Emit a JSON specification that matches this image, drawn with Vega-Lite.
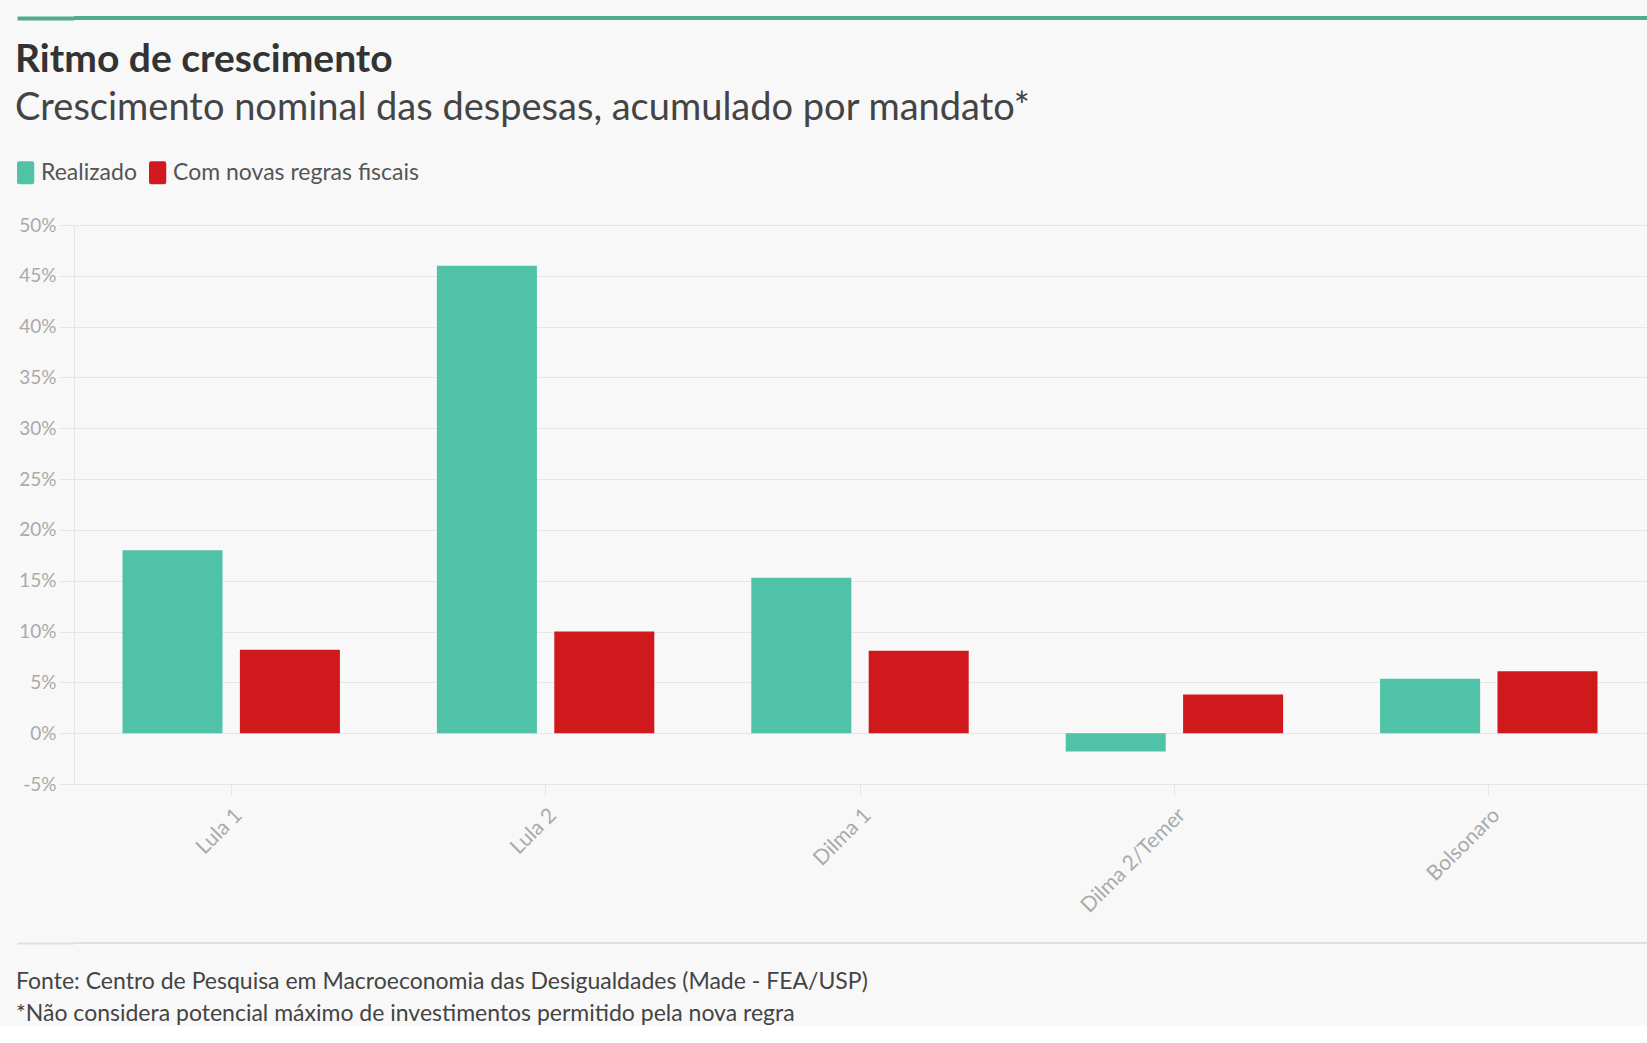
{
  "$schema": "https://vega.github.io/schema/vega-lite/v6.json",
  "background": "#f8f8f8",
  "padding": {"left": 15, "top": 16, "right": 0, "bottom": 0},
  "config": {
    "font": "Lato",
    "view": {"stroke": null}
  },
  "data": {
    "values": [
      {"mandato": "Lula 1", "serie": "Realizado", "valor": 18.0},
      {"mandato": "Lula 1", "serie": "Com novas regras fiscais", "valor": 8.2},
      {"mandato": "Lula 2", "serie": "Realizado", "valor": 46.0},
      {"mandato": "Lula 2", "serie": "Com novas regras fiscais", "valor": 10.0},
      {"mandato": "Dilma 1", "serie": "Realizado", "valor": 15.3},
      {"mandato": "Dilma 1", "serie": "Com novas regras fiscais", "valor": 8.1},
      {"mandato": "Dilma 2/Temer", "serie": "Realizado", "valor": -1.8},
      {"mandato": "Dilma 2/Temer", "serie": "Com novas regras fiscais", "valor": 3.8},
      {"mandato": "Bolsonaro", "serie": "Realizado", "valor": 5.35},
      {"mandato": "Bolsonaro", "serie": "Com novas regras fiscais", "valor": 6.1}
    ]
  },
  "spacing": 25,
  "resolve": {"legend": {"color": "independent"}, "scale": {"y": "independent", "color": "independent"}},
  "vconcat": [
    {
      "spacing": 33,
      "resolve": {"legend": {"color": "independent"}, "scale": {"y": "independent", "color": "independent"}},
      "vconcat": [
        {
          "width": 1575,
          "height": 4,
          "view": {"fill": "#52aa91", "stroke": null},
          "mark": {"type": "rule", "opacity": 0},
          "encoding": {
            "y": {
              "datum": 0.5,
              "type": "quantitative",
              "scale": {"domain": [0, 1]},
              "axis": {
                "title": null,
                "values": [0.5],
                "labels": false,
                "domain": false,
                "grid": false,
                "ticks": true,
                "tickSize": 57,
                "tickWidth": 4,
                "tickColor": "#52aa91"
              }
            }
          },
          "title": {
            "text": "Ritmo de crescimento",
            "subtitle": "Crescimento nominal das despesas, acumulado por mandato*",
            "orient": "bottom",
            "anchor": "start",
            "frame": "bounds",
            "offset": 21,
            "font": "Lato",
            "fontSize": 39,
            "fontWeight": "bold",
            "color": "#333333",
            "subtitleFont": "Lato",
            "subtitleFontSize": 38,
            "subtitleColor": "#444444",
            "subtitlePadding": 10
          }
        },
        {
          "width": 1572,
          "height": 559,
          "mark": {"type": "bar"},
          "encoding": {
            "x": {
              "field": "mandato",
              "type": "nominal",
              "sort": ["Lula 1", "Lula 2", "Dilma 1", "Dilma 2/Temer", "Bolsonaro"],
              "scale": {"paddingInner": 0, "paddingOuter": 0},
              "axis": {
                "title": null,
                "labelAngle": -45,
                "labelFontSize": 21,
                "labelColor": "#aaaaaa",
                "labelPadding": 8,
                "tickColor": "#e6e6e6",
                "tickSize": 12,
                "domainColor": "#e6e6e6",
                "grid": false
              }
            },
            "xOffset": {
              "field": "serie",
              "type": "nominal",
              "sort": ["Realizado", "Com novas regras fiscais"],
              "scale": {"paddingInner": 0.148, "paddingOuter": 0.413}
            },
            "y": {
              "field": "valor",
              "type": "quantitative",
              "scale": {"domain": [-5, 50], "nice": false},
              "axis": {
                "title": null,
                "values": [-5, 0, 5, 10, 15, 20, 25, 30, 35, 40, 45, 50],
                "labelExpr": "datum.value + '%'",
                "labelFontSize": 19,
                "labelColor": "#aaaaaa",
                "labelPadding": 3,
                "tickSize": 15,
                "tickColor": "#e6e6e6",
                "gridColor": "#e6e6e6",
                "domainColor": "#e6e6e6"
              }
            },
            "color": {
              "field": "serie",
              "type": "nominal",
              "scale": {
                "domain": ["Realizado", "Com novas regras fiscais"],
                "range": ["#50c2a7", "#d0191c"]
              },
              "legend": {
                "title": null,
                "orient": "none",
                "legendX": -57,
                "legendY": -64,
                "direction": "horizontal",
                "labelFontSize": 23,
                "labelLimit": 500,
                "labelColor": "#555555",
                "labelOffset": 1,
                "columnPadding": 12,
                "symbolType": "M-0.8,-1H0.3Q0.5,-1 0.5,-0.8V0.8Q0.5,1 0.3,1H-0.8Q-1,1 -1,0.8V-0.8Q-1,-1 -0.8,-1Z",
                "symbolSize": 529,
                "symbolStrokeWidth": 0,
                "symbolOpacity": 1
              }
            }
          }
        }
      ]
    },
    {
      "width": 1575,
      "height": 2,
      "view": {"fill": "#e0e0e0", "stroke": null},
      "mark": {"type": "rule", "opacity": 0},
      "encoding": {
        "y": {
          "datum": 0.5,
          "type": "quantitative",
          "scale": {"domain": [0, 1]},
          "axis": {
            "title": null,
            "values": [0.5],
            "labels": false,
            "domain": false,
            "grid": false,
            "ticks": true,
            "tickSize": 57,
            "tickWidth": 2,
            "tickColor": "#e0e0e0"
          }
        }
      },
      "title": {
        "text": "Fonte: Centro de Pesquisa em Macroeconomia das Desigualdades (Made - FEA/USP)",
        "subtitle": "*Não considera potencial máximo de investimentos permitido pela nova regra",
        "orient": "bottom",
        "anchor": "start",
        "frame": "bounds",
        "offset": 27,
        "font": "Lato",
        "fontSize": 23,
        "fontWeight": "normal",
        "color": "#444444",
        "subtitleFont": "Lato",
        "subtitleFontSize": 23,
        "subtitleColor": "#444444",
        "subtitlePadding": 9
      }
    }
  ]
}
